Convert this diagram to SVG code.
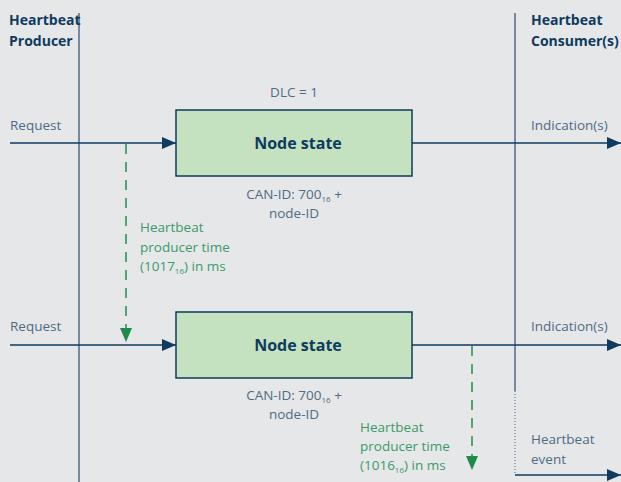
<svg xmlns="http://www.w3.org/2000/svg" width="621" height="482" viewBox="0 0 621 482">
<style>
.bg{fill:#e6e7e9}
.ln{stroke:#0e3b5e;stroke-width:1.5;fill:none}
.vl{stroke:#4f6b85;stroke-width:1.5;fill:none}
.box{fill:#c5e2c0;stroke:#0e3b5e;stroke-width:1.5}
.hd{font-family:"Open Sans",sans-serif;font-weight:bold;font-size:14px;fill:#0e3b5e}
.lb{font-family:"Open Sans",sans-serif;font-size:13.5px;fill:#4f6b85}
.ns{font-family:"Open Sans",sans-serif;font-weight:bold;font-size:16px;fill:#0e3b5e}
.gt{font-family:"Open Sans",sans-serif;font-size:13.5px;fill:#3d9a6a}
.dash{stroke:#1f8a4c;stroke-width:1.5;stroke-dasharray:10,8;fill:none}
.sub{font-size:8px}
</style>
<defs>
<marker id="ah" markerWidth="14" markerHeight="12" refX="14" refY="6" orient="auto" markerUnits="userSpaceOnUse"><path d="M0,0 L14,6 L0,12 Z" fill="#0e3b5e"/></marker>
<marker id="gh" markerWidth="12" markerHeight="14" refX="6" refY="14" orient="0" markerUnits="userSpaceOnUse"><path d="M0,0 L12,0 L6,14 Z" fill="#1f8a4c"/></marker>
</defs>
<rect class="bg" x="0" y="0" width="621" height="482"/>
<g id="producer">
<line class="vl" x1="79" y1="13" x2="79" y2="482"/>
<text class="hd" x="9" y="25">Heartbeat</text>
<text class="hd" x="9" y="46">Producer</text>
</g>
<g id="consumer">
<line class="vl" x1="515" y1="13" x2="515" y2="391"/>
<line x1="515" y1="391" x2="515" y2="475" stroke="#4f6b85" stroke-width="1" stroke-dasharray="1,2"/>
<text class="hd" x="531" y="25">Heartbeat</text>
<text class="hd" x="531" y="46">Consumer(s)</text>
</g>
<g id="connectors">
<line class="ln" x1="10" y1="143" x2="176" y2="143" marker-end="url(#ah)"/>
<line class="ln" x1="412" y1="143" x2="621" y2="143" marker-end="url(#ah)"/>
<line class="ln" x1="10" y1="345" x2="176" y2="345" marker-end="url(#ah)"/>
<line class="ln" x1="412" y1="345" x2="621" y2="345" marker-end="url(#ah)"/>
<line class="ln" x1="515" y1="475" x2="621" y2="475" marker-end="url(#ah)"/>
<line class="dash" x1="126" y1="144" x2="126" y2="342" marker-end="url(#gh)"/>
<line class="dash" x1="472" y1="346" x2="472" y2="470" marker-end="url(#gh)"/>
</g>
<g id="labels">
<text class="lb" x="10" y="130">Request</text>
<text class="lb" x="531" y="130">Indication(s)</text>
<text class="lb" x="10" y="331">Request</text>
<text class="lb" x="531" y="331">Indication(s)</text>
<text class="lb" x="531" y="444">Heartbeat</text>
<text class="lb" x="531" y="464">event</text>
</g>
<g id="node1">
<text class="lb" x="294" y="97" text-anchor="middle">DLC = 1</text>
<rect class="box" x="176" y="110" width="236" height="66"/>
<text class="ns" x="298" y="149" text-anchor="middle">Node state</text>
<text class="lb" x="294" y="199" text-anchor="middle">CAN-ID: 700<tspan class="sub" dy="3">16</tspan><tspan dy="-3"> +</tspan></text>
<text class="lb" x="294" y="218" text-anchor="middle">node-ID</text>
</g>
<g id="node2">
<rect class="box" x="176" y="312" width="236" height="66"/>
<text class="ns" x="298" y="351" text-anchor="middle">Node state</text>
<text class="lb" x="294" y="400" text-anchor="middle">CAN-ID: 700<tspan class="sub" dy="3">16</tspan><tspan dy="-3"> +</tspan></text>
<text class="lb" x="294" y="419" text-anchor="middle">node-ID</text>
</g>
<g id="timer1">
<text class="gt" x="140" y="232">Heartbeat</text>
<text class="gt" x="140" y="252">producer time</text>
<text class="gt" x="140" y="271">(1017<tspan class="sub" dy="3">16</tspan><tspan dy="-3">) in ms</tspan></text>
</g>
<g id="timer2">
<text class="gt" x="360" y="432">Heartbeat</text>
<text class="gt" x="360" y="451">producer time</text>
<text class="gt" x="360" y="470">(1016<tspan class="sub" dy="3">16</tspan><tspan dy="-3">) in ms</tspan></text>
</g>
</svg>
